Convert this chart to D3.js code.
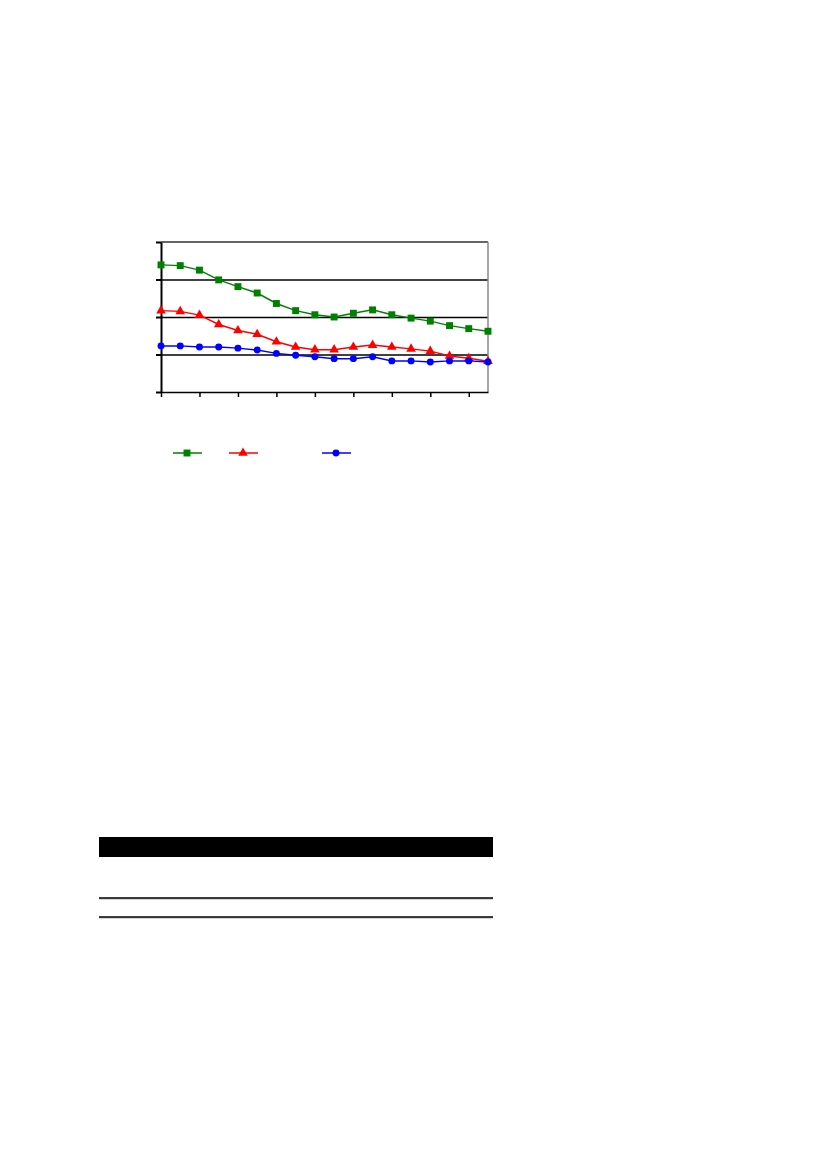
<!DOCTYPE html>
<html>
<head>
<meta charset="utf-8">
<script src="https://cdn.jsdelivr.net/npm/d3@7"></script>
<style>
  body { margin: 0; background: #fff; }
  svg { display: block; }
</style>
</head>
<body>
<svg id="page" width="827" height="1169"></svg>
<script>
// data
var periods = d3.range(18);
var greenValues = [3.39, 3.37, 3.25, 2.99, 2.81, 2.64, 2.36, 2.17, 2.06, 2.00, 2.10, 2.19, 2.06, 1.97, 1.89, 1.77, 1.69, 1.62];
var redValues   = [2.17, 2.15, 2.05, 1.80, 1.64, 1.54, 1.34, 1.20, 1.13, 1.13, 1.20, 1.25, 1.20, 1.15, 1.09, 0.96, 0.90, 0.82];
var blueValues  = [1.23, 1.23, 1.20, 1.20, 1.17, 1.12, 1.03, 0.98, 0.94, 0.89, 0.89, 0.94, 0.83, 0.83, 0.80, 0.83, 0.83, 0.80];
var yTicks = [0, 1, 2, 3, 4];
var xTicks = [0, 2, 4, 6, 8, 10, 12, 14, 16];

var series = [
  {name: "s1", values: greenValues, color: "#008000", symbol: d3.symbolSquare, size: 48},
  {name: "s2", values: redValues, color: "#ff0000", symbol: d3.symbolTriangle, size: 40},
  {name: "s3", values: blueValues, color: "#0000ff", symbol: d3.symbolCircle, size: 38}
];

var svg = d3.select("#page");

var plotLeft = 161, plotRight = 488, plotTop = 242, plotBottom = 392;

var x = d3.scaleLinear().domain([0, 17]).range([plotLeft, plotRight]);
var y = d3.scaleLinear().domain([0, 4]).range([plotBottom, plotTop]);

var chart = svg.append("g");

// grid lines
chart.append("g")
  .attr("transform", "translate(" + plotLeft + ",0)")
  .call(d3.axisLeft(y).tickValues(yTicks.slice(1, 4)).tickSize(-(plotRight - plotLeft)).tickFormat(""))
  .call(function(g) { g.select(".domain").remove(); })
  .selectAll("line").attr("stroke", "#000").attr("stroke-width", 1.5);

// plot frame top + right
chart.append("line")
  .attr("x1", plotLeft).attr("x2", plotRight).attr("y1", y(4)).attr("y2", y(4))
  .attr("stroke", "#333").attr("stroke-width", 1.5);
chart.append("line")
  .attr("x1", plotRight).attr("x2", plotRight).attr("y1", y(4)).attr("y2", y(0))
  .attr("stroke", "#888").attr("stroke-width", 1.5);

// axes
var yAxis = chart.append("g")
  .attr("transform", "translate(" + plotLeft + ",0)")
  .call(d3.axisLeft(y).tickValues(yTicks).tickSize(5).tickSizeOuter(0).tickFormat(""));
yAxis.selectAll("line, path").attr("stroke", "#000").attr("stroke-width", 2);

var xAxis = chart.append("g")
  .attr("transform", "translate(0," + plotBottom + ")")
  .call(d3.axisBottom(x).tickValues(xTicks).tickSize(5).tickSizeOuter(0).tickFormat(""));
xAxis.selectAll("line, path").attr("stroke", "#000").attr("stroke-width", 1.5);

var line = d3.line()
  .x(function(d, i) { return x(periods[i]); })
  .y(function(d) { return y(d); });

series.forEach(function(s) {
  var g = chart.append("g");
  g.append("path")
    .attr("d", line(s.values))
    .attr("fill", "none")
    .attr("stroke", s.color)
    .attr("stroke-width", 1.5);
  g.selectAll("path.mark")
    .data(s.values)
    .enter().append("path")
    .attr("class", "mark")
    .attr("transform", function(d, i) { return "translate(" + x(periods[i]) + "," + y(d) + ")"; })
    .attr("d", d3.symbol().type(s.symbol).size(s.size))
    .attr("fill", s.color);
});

// legend (labels are blank in the source)
var legendX = [187, 243, 336];
var legend = svg.append("g").attr("transform", "translate(0,453)");
series.forEach(function(s, i) {
  legend.append("line")
    .attr("x1", legendX[i] - 14).attr("x2", legendX[i] + 15)
    .attr("stroke", s.color).attr("stroke-width", 1.5);
  legend.append("path")
    .attr("transform", "translate(" + legendX[i] + ",0)")
    .attr("d", d3.symbol().type(s.symbol).size(s.size))
    .attr("fill", s.color);
});

// table below
var table = svg.append("g");
table.append("rect")
  .attr("x", 99).attr("y", 837).attr("width", 394).attr("height", 20)
  .attr("fill", "#000");
[898, 917].forEach(function(ry) {
  table.append("line")
    .attr("x1", 99).attr("x2", 493).attr("y1", ry + 1).attr("y2", ry + 1)
    .attr("stroke", "#aaa").attr("stroke-width", 1);
  table.append("line")
    .attr("x1", 99).attr("x2", 493).attr("y1", ry).attr("y2", ry)
    .attr("stroke", "#000").attr("stroke-width", 1.5);
});
</script>
</body>
</html>
